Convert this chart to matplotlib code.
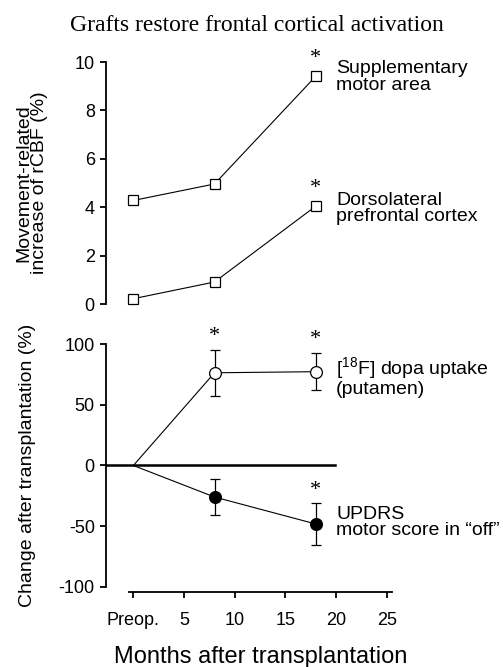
import matplotlib
matplotlib.use("Agg")
import matplotlib.pyplot as plt

plt.rcParams['font.family'] = ['Liberation Sans', 'DejaVu Sans']
plt.rcParams['mathtext.fontset'] = 'custom'
plt.rcParams['mathtext.rm'] = 'Liberation Sans'
plt.rcParams['axes.unicode_minus'] = False

# months after transplantation (0 = preop)
months = [0, 8, 18]

# movement-related rCBF increase (%)
sma = [4.28, 4.96, 9.42]
dlpfc = [0.22, 0.91, 4.05]

# change after transplantation (%)
dopa = [0, 76.5, 77.4]
dopa_err = [0, 19, 15.5]
updrs = [0, -26, -48.3]
updrs_err = [0, 15, 17]

xticks = [0, 5, 10, 15, 20, 25]
xticklabels = ['Preop.', '5', '10', '15', '20', '25']

fig = plt.figure(figsize=(5.03, 6.67), dpi=100)
fig.text(0.511, 0.962, 'Grafts restore frontal cortical activation',
         family='Liberation Serif', fontsize=17, ha='center', va='center')

lw_spine = 1.3
lbl = 13
txt = 14

# ---- top panel
ax1 = fig.add_axes([0.2107, 0.5442, 0.5686, 0.3628])
ax1.plot(months, sma, color='black', lw=0.8, marker='s', ms=6.5,
         mfc='white', mec='black', mew=0.9, clip_on=False, zorder=3)
ax1.plot(months, dlpfc, color='black', lw=0.8, marker='s', ms=6.5,
         mfc='white', mec='black', mew=0.9, clip_on=False, zorder=3)
ax1.set_xlim(-2.7, 25.5)
ax1.set_ylim(0, 10)
ax1.set_yticks([0, 2, 4, 6, 8, 10])
for s in ['top', 'right', 'bottom']:
    ax1.spines[s].set_visible(False)
ax1.spines['left'].set_linewidth(lw_spine)
ax1.set_xticks([])
ax1.tick_params(axis='y', direction='out', length=4, width=lw_spine, labelsize=lbl, pad=4)
ax1.set_ylabel('Movement-related\nincrease of rCBF (%)', fontsize=txt, linespacing=0.9)
ax1.yaxis.set_label_coords(-0.203, 0.5)
ax1.text(months[2], sma[2] + 0.35, '*', family='Liberation Serif', fontsize=16,
         ha='center', va='bottom')
ax1.text(months[2], dlpfc[2] + 0.35, '*', family='Liberation Serif', fontsize=16,
         ha='center', va='bottom')
ax1.text(20.0, 9.38, 'Supplementary\nmotor area', fontsize=txt, va='center',
         linespacing=0.95, clip_on=False)
ax1.text(20.0, 3.95, 'Dorsolateral\nprefrontal cortex', fontsize=txt, va='center',
         linespacing=0.95, clip_on=False)

# ---- bottom panel
ax2 = fig.add_axes([0.2107, 0.1204, 0.5686, 0.3634])
ax2.plot([-2.7, 19.9], [0, 0], color='black', lw=1.8, zorder=2)
# connecting lines from preop (no marker at preop)
ax2.plot(months, dopa, color='black', lw=0.8, zorder=3)
ax2.plot(months, updrs, color='black', lw=0.8, zorder=3)
ax2.errorbar(months[1:], dopa[1:], yerr=dopa_err[1:], fmt='o', color='black',
             ms=8.5, mfc='white', mec='black', mew=0.9, capsize=3.5,
             elinewidth=0.9, capthick=0.9, clip_on=False, zorder=4)
ax2.errorbar(months[1:], updrs[1:], yerr=updrs_err[1:], fmt='o', color='black',
             ms=8.5, mfc='black', mec='black', mew=0.9, capsize=3.5,
             elinewidth=0.9, capthick=0.9, clip_on=False, zorder=4)
ax2.set_xlim(-2.7, 25.5)
ax2.set_ylim(-100, 100)
ax2.set_yticks([-100, -50, 0, 50, 100])
ax2.set_xticks(xticks)
ax2.set_xticklabels(xticklabels)
for s in ['top', 'right']:
    ax2.spines[s].set_visible(False)
ax2.spines['left'].set_linewidth(lw_spine)
ax2.spines['bottom'].set_linewidth(lw_spine)
ax2.spines['bottom'].set_position(('outward', 4))
ax2.spines['bottom'].set_bounds(-0.4, 25.5)
ax2.tick_params(axis='y', direction='out', length=4, width=lw_spine, labelsize=lbl, pad=4)
ax2.tick_params(axis='x', direction='out', length=4, width=lw_spine, labelsize=lbl, pad=10)
ax2.set_ylabel('Change after transplantation (%)', fontsize=txt)
ax2.yaxis.set_label_coords(-0.245, 0.5)
fig.text(0.518, 0.006, 'Months after transplantation', fontsize=17,
         ha='center', va='baseline')
for i, v in [(1, dopa[1] + dopa_err[1]), (2, dopa[2] + dopa_err[2]),
             (2, updrs[2] + updrs_err[2])]:
    ax2.text(months[i], v + 3, '*', family='Liberation Serif', fontsize=16,
             ha='center', va='bottom')
ax2.text(20.0, 73.2, '[$^{\\mathrm{18}}$F] dopa uptake\n(putamen)', fontsize=txt,
         va='center', linespacing=0.95, clip_on=False)
ax2.text(20.0, -47, 'UPDRS\nmotor score in \u201coff\u201d', fontsize=txt,
         va='center', linespacing=0.95, clip_on=False)

fig.savefig('out.png', dpi=100)
